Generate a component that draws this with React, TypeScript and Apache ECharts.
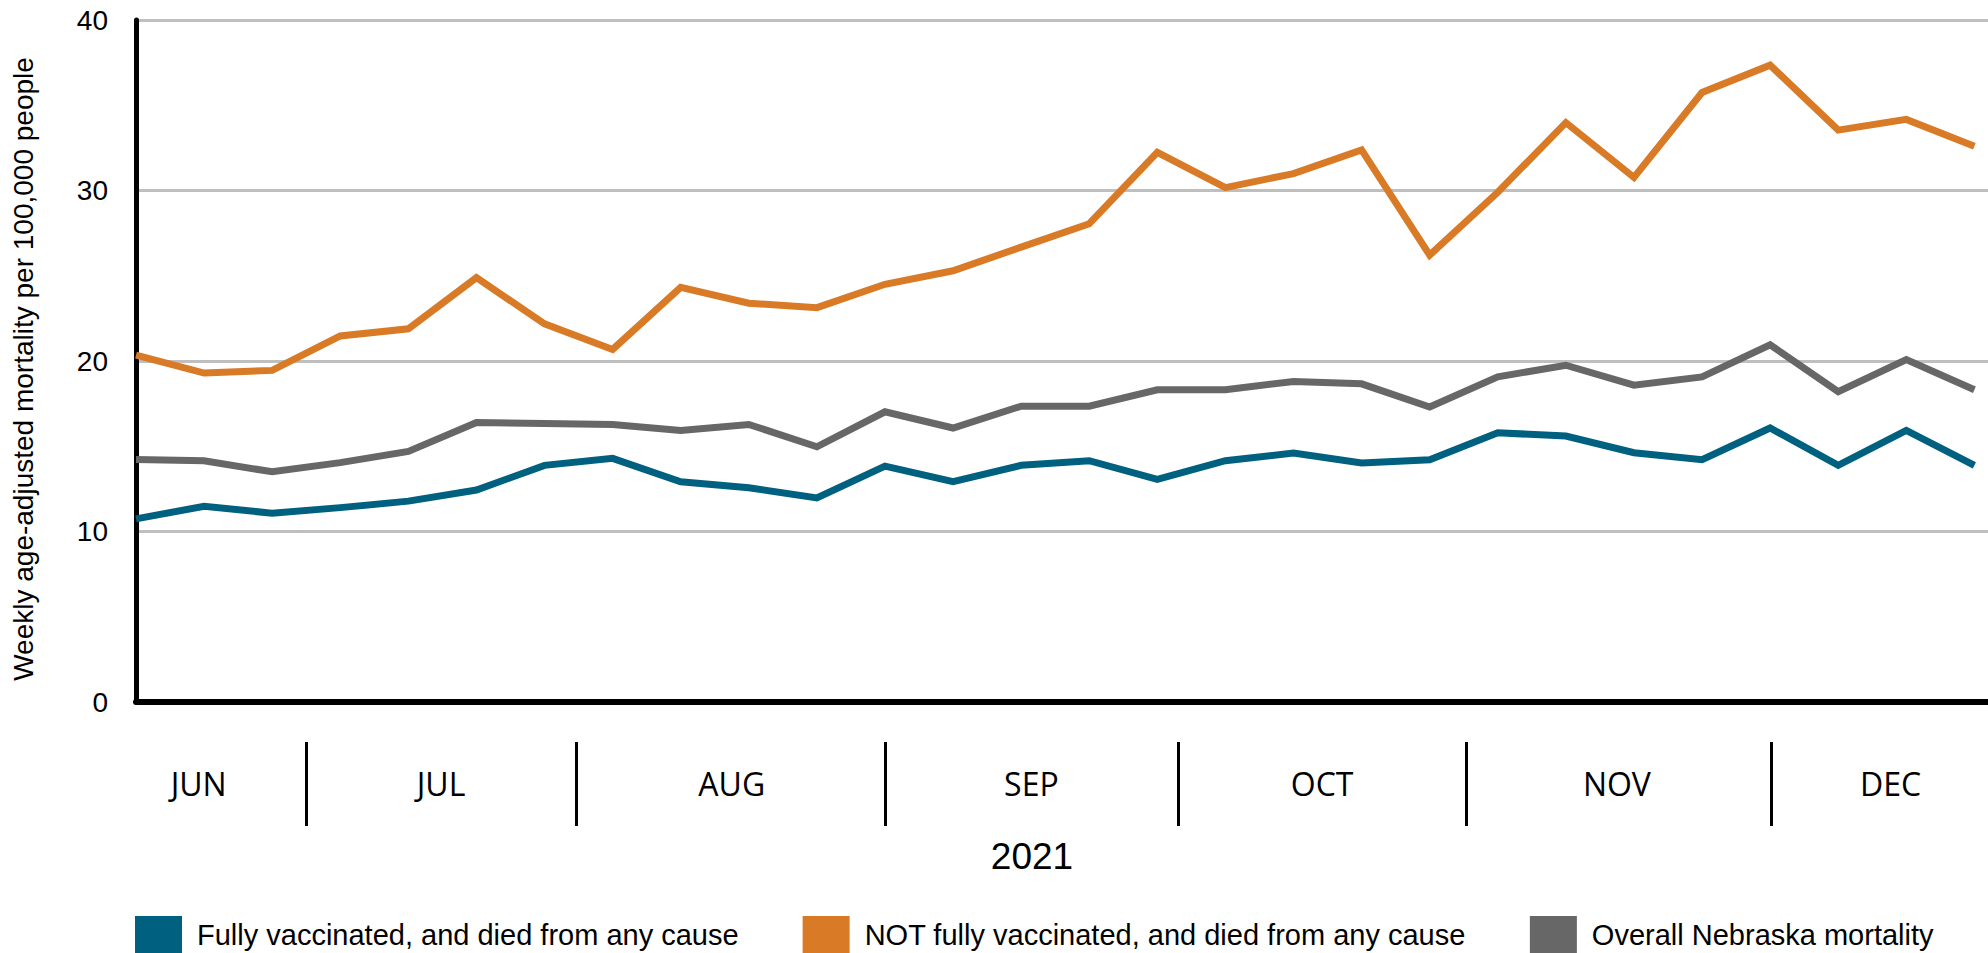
import React, { useEffect, useRef } from "react";
import * as echarts from "echarts";

const fullyVaccinated = [10.74, 11.48, 11.07, 11.4, 11.78, 12.43, 13.88, 14.29, 12.92, 12.57, 11.97, 13.83, 12.92, 13.88, 14.15, 13.06, 14.15, 14.6, 14.02, 14.21, 15.79, 15.6, 14.62, 14.21, 16.07, 13.88, 15.93, 13.88];
const notFullyVaccinated = [20.34, 19.29, 19.45, 21.47, 21.89, 24.89, 22.18, 20.68, 24.32, 23.39, 23.13, 24.5, 25.29, 26.68, 28.05, 32.24, 30.17, 30.99, 32.38, 26.21, 29.9, 33.98, 30.77, 35.75, 37.35, 33.54, 34.17, 32.6];
const overallNebraska = [14.23, 14.15, 13.5, 14.04, 14.7, 16.39, 16.34, 16.28, 15.93, 16.28, 14.97, 17.02, 16.07, 17.35, 17.35, 18.31, 18.31, 18.8, 18.66, 17.3, 19.07, 19.75, 18.58, 19.07, 20.95, 18.2, 20.08, 18.31];

const seriesNames = [
  "Fully vaccinated, and died from any cause",
  "NOT fully vaccinated, and died from any cause",
  "Overall Nebraska mortality",
];
const seriesColors = ["#00607F", "#D97A26", "#676767"];

const monthNames = ["JUN", "JUL", "AUG", "SEP", "OCT", "NOV", "DEC"];
// positions in week-index units
const monthCenters = [0.92, 4.48, 8.75, 13.15, 17.42, 21.75, 25.77];
const monthBoundaries = [2.5, 6.47, 11.01, 15.31, 19.53, 24.01];
const yearLabel = "2021";
const yTitle = "Weekly age-adjusted mortality per 100,000 people";

const X_MAX = 27.2;

export default function App() {
  const ref = useRef<HTMLDivElement>(null);
  useEffect(() => {
    if (!ref.current) return;
    const chart = echarts.init(ref.current, undefined, { renderer: "svg" });
    const datasets = [fullyVaccinated, notFullyVaccinated, overallNebraska];
    const option: any = {
      animation: false,
      backgroundColor: "#fff",
      grid: { left: 136, top: 20, right: 0, bottom: 251, containLabel: false },
      legend: {
        data: seriesNames,
        left: 130,
        top: 911,
        icon: "rect",
        itemWidth: 47,
        itemHeight: 38,
        itemGap: 64,
        textStyle: {
          fontFamily: "Liberation Sans",
          fontSize: 29,
          color: "#000",
          padding: [0, 0, 0, 10],
        },
      },
      xAxis: [
        {
          type: "value",
          min: 0,
          max: X_MAX,
          axisLine: { show: true, onZero: false, lineStyle: { color: "#000", width: 6 } },
          axisTick: { show: false },
          axisLabel: { show: false },
          splitLine: { show: false },
        },
        {
          type: "value",
          min: 0,
          max: X_MAX,
          position: "bottom",
          offset: 40,
          axisLine: { show: false, onZero: false },
          splitLine: { show: false },
          axisTick: {
            show: true,
            customValues: monthBoundaries,
            length: 84,
            inside: false,
            lineStyle: { color: "#000", width: 3 },
          },
          axisLabel: {
            show: true,
            customValues: monthCenters,
            formatter: (v: number) => {
              let best = 0;
              let bd = Infinity;
              monthCenters.forEach((c, i) => {
                const d = Math.abs(c - v);
                if (d < bd) { bd = d; best = i; }
              });
              return monthNames[best];
            },
            margin: 41,
            verticalAlign: "middle",
            fontFamily: "Open Sans",
            fontSize: 32,
            color: "#000",
          },
        },
      ],
      yAxis: {
        type: "value",
        min: 0,
        max: 40,
        interval: 10,
        axisLine: { show: true, lineStyle: { color: "#000", width: 5 } },
        axisTick: { show: false },
        axisLabel: { margin: 28, fontFamily: "Liberation Sans", fontSize: 28, color: "#000" },
        splitLine: { show: true, lineStyle: { color: "#BFBFBF", width: 3 } },
      },
      graphic: [
        {
          type: "text",
          x: 23,
          y: 369,
          rotation: Math.PI / 2,
          style: {
            text: yTitle,
            font: '28px "Liberation Sans"',
            fill: "#000",
            textAlign: "center",
            textVerticalAlign: "middle",
          },
        },
        {
          type: "text",
          x: 1032,
          y: 856,
          style: {
            text: yearLabel,
            font: '37px "Liberation Sans"',
            fill: "#000",
            textAlign: "center",
            textVerticalAlign: "middle",
          },
        },
      ],
      series: datasets.map((vals, k) => ({
        name: seriesNames[k],
        type: "line",
        xAxisIndex: 0,
        data: vals.map((v, i) => [i, v]),
        showSymbol: false,
        symbol: "none",
        color: seriesColors[k],
        lineStyle: { color: seriesColors[k], width: 7, join: "miter" },
        itemStyle: { color: seriesColors[k] },
        z: 3,
      })),
    };
    chart.setOption(option);
    return () => chart.dispose();
  }, []);
  return (
    <div
      ref={ref}
      style={{ position: "absolute", left: 0, top: 0, width: 1988, height: 953 }}
    />
  );
}
